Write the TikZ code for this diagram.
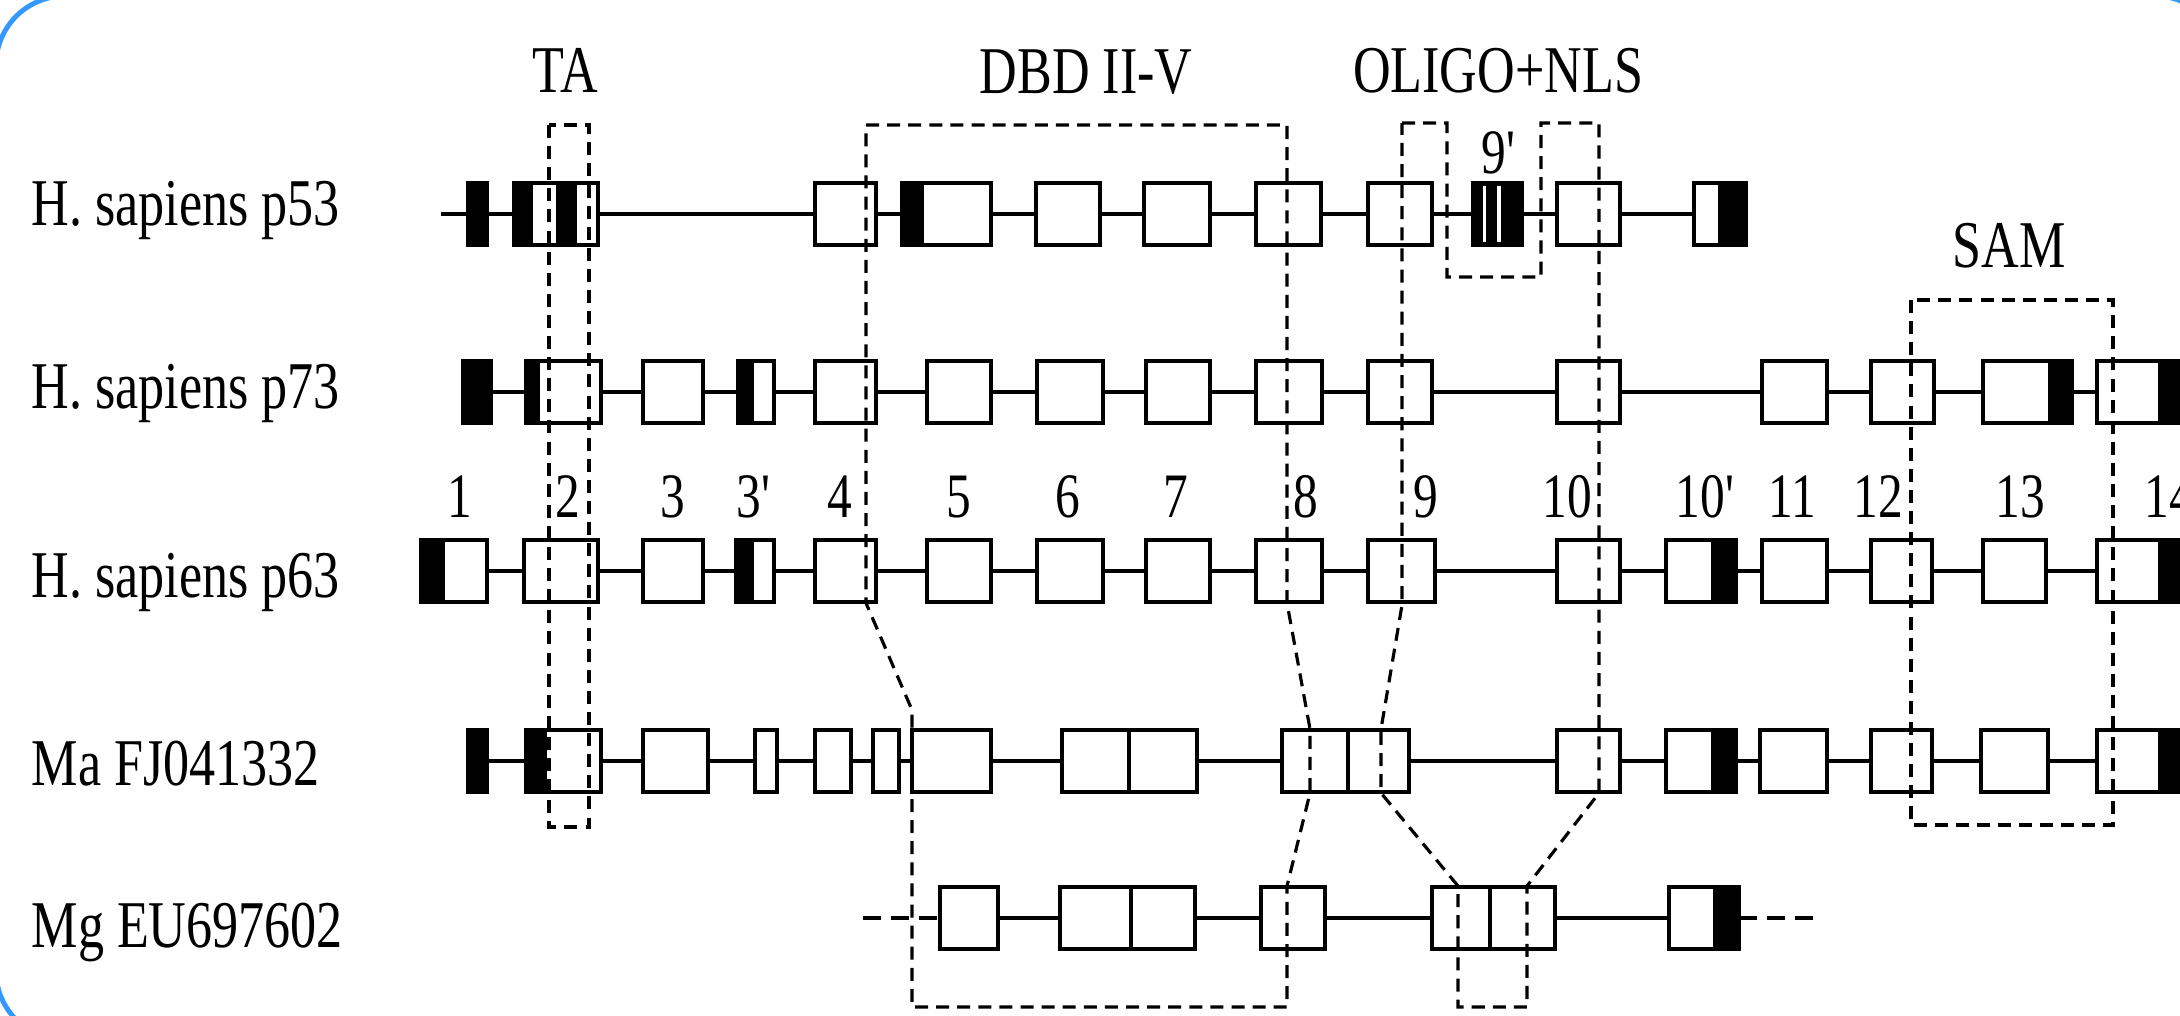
\documentclass[tikz,border=0pt]{standalone}
\usepackage{fontspec}
\newfontfamily\lab[FakeStretch=0.78]{Liberation Serif}
\definecolor{framecol}{RGB}{51,153,255}
\newcommand\ex[4]{\node[exon, minimum width={(#3-#2)*0.01cm}] (#1) at ({(#2+#3)/2},#4) {};}
\newcommand\exb[4]{\node[exon, fill=black, minimum width={(#3-#2)*0.01cm}] (#1) at ({(#2+#3)/2},#4) {};}
\newcommand\bk[3]{\fill (#1,#3-31) rectangle (#2,#3+31);}
\newcommand\rb[1]{\draw[exonline] (#1.south west) rectangle (#1.north east);}
\begin{document}
\begin{tikzpicture}[x=0.01cm,y=-0.01cm,
  exonline/.style={line width=1.1pt},
  exon/.style={draw=black, fill=white, line width=1.1pt, rectangle, inner sep=0pt, outer sep=0pt, minimum height=0.62cm},
  intron/.style={line width=0.9pt},
  tail/.style={line width=1.1pt, dash pattern=on 5pt off 3pt},
  region/.style={line width=0.9pt, dash pattern=on 3.7pt off 2.3pt},
  txt/.style={font=\lab\fontsize{19}{22}\selectfont, inner sep=0pt, anchor=base},
  num/.style={font=\lab\fontsize{18}{22}\selectfont, inner sep=0pt, anchor=base},
  rowlbl/.style={txt, anchor=base west}]
\useasboundingbox (0,0) rectangle (2180,1015);
\begin{scope}
\clip (0,0) rectangle (2180,1015);
\fill[white] (0,0) rectangle (2180,1015);
% frame
\draw[framecol, line width=1.4pt, rounded corners=0.69cm] (-4,-4) rectangle (2224,1040);

% row labels
\node[rowlbl] (l53) at (31,225) {H. sapiens p53};
\node[rowlbl] (l73) at (31,408) {H. sapiens p73};
\node[rowlbl] (l63) at (31,597) {H. sapiens p63};
\node[rowlbl] (lma) at (31,785) {Ma FJ041332};
\node[rowlbl] (lmg) at (31,947) {Mg EU697602};

% domain labels
\node[txt] (tTA) at (565,92) {TA};
\node[txt] (tDBD) at (1086,93) {DBD II-V};
\node[txt] (tOL) at (1498,92) {OLIGO+NLS};
\node[txt] (tSAM) at (2009,267) {SAM};
\node[num] (t9p) at (1500,173) {9\textquotesingle};

% exon numbers
\node[num] (n1) at (460,517) {1};
\node[num] (n2) at (568,517) {2};
\node[num] (n3) at (673,517) {3};
\node[num] (n3p) at (755,517) {3\textquotesingle};
\node[num] (n4) at (840,517) {4};
\node[num] (n5) at (959,517) {5};
\node[num] (n6) at (1068,517) {6};
\node[num] (n7) at (1176,517) {7};
\node[num] (n8) at (1306,517) {8};
\node[num] (n9) at (1426,517) {9};
\node[num] (n10) at (1567,517) {10};
\node[num] (n10p) at (1706,517) {10\textquotesingle};
\node[num] (n11) at (1792,517) {11};
\node[num] (n12) at (1878,517) {12};
\node[num] (n13) at (2020,517) {13};
\node[num, anchor=base west] (n14) at (2144,517) {14};

% intron lines
\coordinate (a0) at (441,214); \coordinate (a1) at (1700,214);
\coordinate (b0) at (463,392); \coordinate (b1) at (2200,392);
\coordinate (c0) at (421,571); \coordinate (c1) at (2200,571);
\coordinate (d0) at (468,761); \coordinate (d1) at (2200,761);
\coordinate (e0) at (863,918); \coordinate (e1) at (945,918);
\coordinate (e2) at (1669,918); \coordinate (e3) at (1739,918); \coordinate (e4) at (1818,918);
\draw[intron] (a0) -- (a1);
\draw[intron] (b0) -- (b1);
\draw[intron] (c0) -- (c1);
\draw[intron] (d0) -- (d1);
\draw[intron] (e1) -- (e2);
\draw[tail] (e0) -- (e1);
\draw[tail] (e3) -- (e4);

% p53
\exb{p53a}{468}{487}{214}
\ex{p53b}{514}{598}{214} \bk{514}{533}{214} \bk{556}{577}{214} \rb{p53b}
\ex{p53c}{815}{876}{214}
\ex{p53d}{902}{991}{214} \bk{902}{924}{214} \rb{p53d}
\ex{p53e}{1036}{1100}{214}
\ex{p53f}{1144}{1210}{214}
\ex{p53g}{1256}{1321}{214}
\ex{p53h}{1368}{1432}{214}
\exb{p53i}{1473}{1522}{214}
\fill[white] (1483,186) rectangle (1486,242);
\fill[white] (1497,186) rectangle (1501,242);
\ex{p53j}{1557}{1620}{214}
\ex{p53k}{1694}{1746}{214} \bk{1718}{1746}{214} \rb{p53k}

% p73
\exb{p73a}{463}{491}{392}
\ex{p73b}{526}{601}{392} \bk{526}{540}{392} \rb{p73b}
\ex{p73c}{643}{703}{392}
\ex{p73d}{738}{774}{392} \bk{738}{754}{392} \rb{p73d}
\ex{p73e}{815}{876}{392}
\ex{p73f}{927}{991}{392}
\ex{p73g}{1037}{1103}{392}
\ex{p73h}{1146}{1210}{392}
\ex{p73i}{1256}{1322}{392}
\ex{p73j}{1368}{1432}{392}
\ex{p73k}{1557}{1620}{392}
\ex{p73l}{1762}{1827}{392}
\ex{p73m}{1871}{1934}{392}
\ex{p73n}{1983}{2072}{392} \bk{2048}{2072}{392} \rb{p73n}
\ex{p73o}{2097}{2210}{392} \bk{2158}{2210}{392} \rb{p73o}

% p63
\ex{p63a}{421}{487}{571} \bk{421}{445}{571} \rb{p63a}
\ex{p63b}{524}{598}{571}
\ex{p63c}{643}{703}{571}
\ex{p63d}{736}{774}{571} \bk{736}{754}{571} \rb{p63d}
\ex{p63e}{815}{876}{571}
\ex{p63f}{927}{991}{571}
\ex{p63g}{1037}{1103}{571}
\ex{p63h}{1146}{1210}{571}
\ex{p63i}{1256}{1322}{571}
\ex{p63j}{1368}{1435}{571}
\ex{p63k}{1557}{1620}{571}
\ex{p63l}{1666}{1736}{571} \bk{1711}{1736}{571} \rb{p63l}
\ex{p63m}{1762}{1827}{571}
\ex{p63n}{1871}{1932}{571}
\ex{p63o}{1983}{2046}{571}
\ex{p63p}{2097}{2210}{571} \bk{2158}{2210}{571} \rb{p63p}

% Ma
\exb{maa}{468}{487}{761}
\ex{mab}{526}{601}{761} \bk{526}{547}{761} \rb{mab}
\ex{mac}{643}{708}{761}
\ex{mad}{755}{777}{761}
\ex{mae}{815}{851}{761}
\ex{maf}{873}{899}{761}
\ex{mag}{912}{991}{761}
\ex{mah}{1062}{1129}{761}
\ex{mai}{1129}{1197}{761}
\ex{maj}{1282}{1348}{761}
\ex{mak}{1348}{1409}{761}
\ex{mal}{1557}{1620}{761}
\ex{mam}{1666}{1736}{761} \bk{1711}{1736}{761} \rb{mam}
\ex{man}{1760}{1827}{761}
\ex{mao}{1871}{1932}{761}
\ex{map}{1981}{2048}{761}
\ex{maq}{2097}{2210}{761} \bk{2158}{2210}{761} \rb{maq}

% Mg
\ex{mga}{940}{998}{918}
\ex{mgb}{1060}{1131}{918}
\ex{mgc}{1131}{1195}{918}
\ex{mgd}{1261}{1325}{918}
\ex{mge}{1432}{1490}{918}
\ex{mgf}{1490}{1555}{918}
\ex{mgg}{1669}{1739}{918} \bk{1713}{1739}{918} \rb{mgg}

% domain outlines
\draw[region] (549,125) rectangle (589,827);
\draw[region] (866,125) -- (1287,125) -- (1287,603) -- (1310,729) -- (1310,793)
  -- (1287,886) -- (1287,1007) -- (912,1007) -- (912,710) -- (866,603) -- cycle;
\draw[region] (1402,123) -- (1447,123) -- (1447,277) -- (1541,277) -- (1541,123)
  -- (1599,123) -- (1599,793) -- (1527,886) -- (1527,1007) -- (1458,1007)
  -- (1458,886) -- (1381,793) -- (1381,729) -- (1402,605) -- cycle;
\draw[region] (1911,300) rectangle (2113,825);
\end{scope}
\end{tikzpicture}
\end{document}
